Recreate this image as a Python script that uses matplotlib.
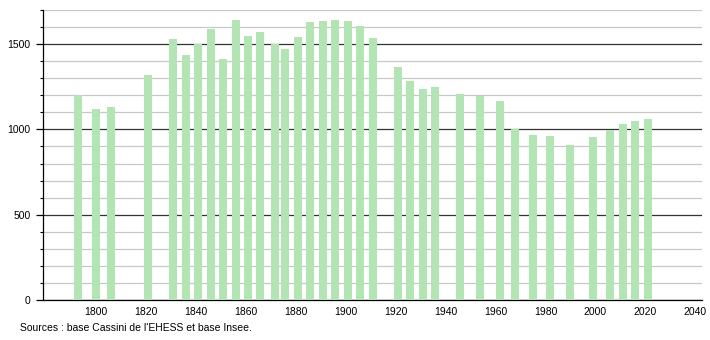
import matplotlib
matplotlib.use("Agg")
import matplotlib.pyplot as plt
from matplotlib.ticker import MultipleLocator

# census years and population
years = [1793, 1800, 1806, 1821, 1831, 1836, 1841, 1846, 1851, 1856, 1861,
         1866, 1872, 1876, 1881, 1886, 1891, 1896, 1901, 1906, 1911, 1921,
         1926, 1931, 1936, 1946, 1954, 1962, 1968, 1975, 1982, 1990, 1999,
         2006, 2011, 2016, 2021]
population = [1202, 1117, 1131, 1321, 1529, 1439, 1500, 1588, 1411, 1639, 1548,
              1572, 1500, 1470, 1539, 1627, 1635, 1644, 1635, 1607, 1535, 1368,
              1282, 1235, 1249, 1205, 1196, 1164, 1005, 970, 964, 911, 953,
              996, 1033, 1052, 1062]

x_ticks = [1800, 1820, 1840, 1860, 1880, 1900, 1920, 1940, 1960, 1980, 2000, 2020, 2040]
source_text = "Sources : base Cassini de l'EHESS et base Insee."

plt.rcParams["font.family"] = ["Liberation Sans", "DejaVu Sans"]

fig = plt.figure(figsize=(7.1, 3.4), dpi=100)
ax = fig.add_axes([0.0606, 0.1176, 0.9284, 0.853])

ax.bar(years, population, width=3.2, color="#b3e4b3", zorder=3)

ax.set_xlim(1779, 2042.7)
ax.set_ylim(0, 1700)

ax.yaxis.set_major_locator(MultipleLocator(500))
ax.yaxis.set_minor_locator(MultipleLocator(100))
ax.grid(which="minor", axis="y", color="#c8c8c8", linewidth=0.9, zorder=0)
ax.grid(which="major", axis="y", color="#333333", linewidth=0.9, zorder=1)

ax.set_xticks(x_ticks)
ax.tick_params(axis="x", length=0, labelsize=7.5, pad=5)
ax.tick_params(axis="y", which="major", length=5, width=0.9, labelsize=7.5, pad=4)
ax.tick_params(axis="y", which="minor", length=2.5, width=0.8)

for side in ["top", "right"]:
    ax.spines[side].set_visible(False)
ax.spines["left"].set_linewidth(0.9)
ax.spines["bottom"].set_linewidth(0.9)

fig.text(20 / 710, 1 - 328 / 340, source_text, fontsize=7.5, va="center", ha="left")

fig.savefig("out.png", dpi=100)
